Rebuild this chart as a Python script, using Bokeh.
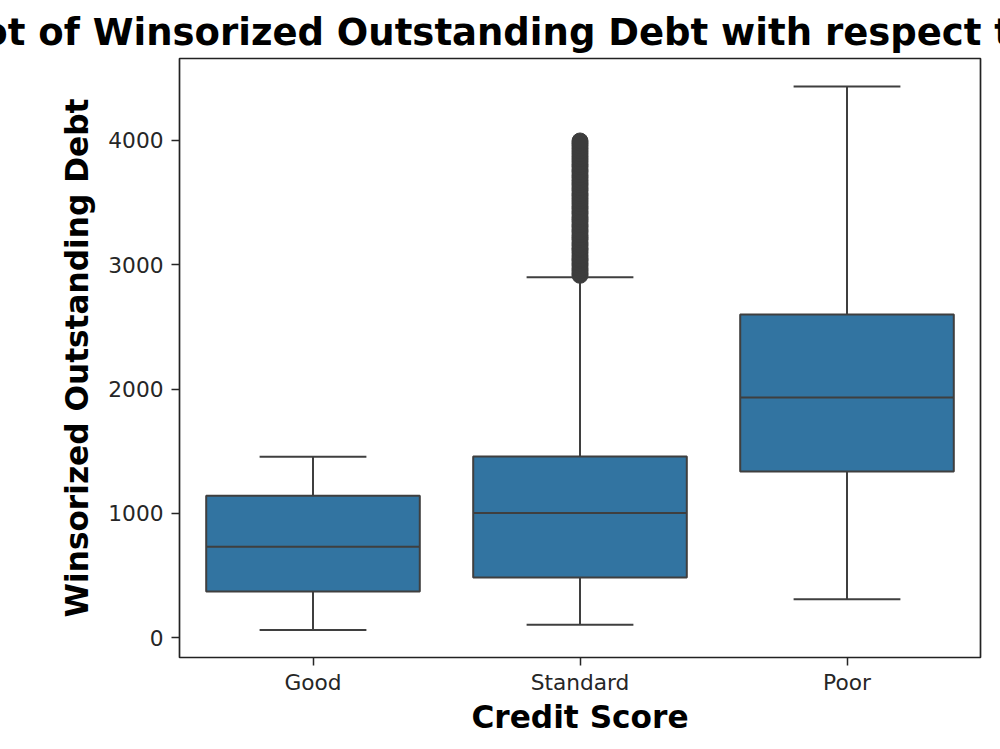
from bokeh.plotting import figure
from bokeh.models import FactorRange, Range1d, FixedTicker, ColumnDataSource
from bokeh.transform import dodge
from bokeh.embed import file_html
from bokeh.resources import INLINE

# ---- data ----
categories = ["Good", "Standard", "Poor"]
q1_values = [372, 485, 1338]
median_values = [732, 1003, 1933]
q3_values = [1142, 1459, 2599]
lower_whisker = [64, 105, 311]
upper_whisker = [1456, 2899, 4433]
standard_outliers = [2915, 2931, 2952, 2970, 2994, 3012, 3035, 3049, 3071, 3096,
                     3118, 3133, 3157, 3176, 3202, 3219, 3238, 3263, 3281, 3305,
                     3322, 3347, 3366, 3384, 3409, 3427, 3450, 3468, 3491, 3512,
                     3533, 3555, 3572, 3598, 3617, 3640, 3658, 3679, 3702, 3721,
                     3746, 3763, 3788, 3806, 3829, 3850, 3871, 3893, 3914, 3936,
                     3958, 3977, 3995]
y_ticks = [0, 1000, 2000, 3000, 4000]
title_text = "Box Plot of Winsorized Outstanding Debt with respect to Credit Score"
x_label = "Credit Score"
y_label = "Winsorized Outstanding Debt"

BOX_FILL = "#3274a1"
LINE = "#3f3f3f"

p = figure(width=1000, height=749, x_range=FactorRange(*categories),
           y_range=Range1d(-158, 4658), output_backend="svg", toolbar_location=None,
           min_border_left=179, min_border_right=20, min_border_top=58,
           min_border_bottom=92, background_fill_color="white",
           border_fill_color="white")

src = ColumnDataSource(dict(cat=categories, q1=q1_values, med=median_values,
                            q3=q3_values, lo=lower_whisker, hi=upper_whisker))

# whiskers
p.segment(x0="cat", y0="q3", x1="cat", y1="hi", source=src, line_color=LINE, line_width=2)
p.segment(x0="cat", y0="lo", x1="cat", y1="q1", source=src, line_color=LINE, line_width=2)
# boxes
p.vbar(x="cat", top="q3", bottom="q1", width=0.8, source=src,
       fill_color=BOX_FILL, line_color=LINE, line_width=2)
# medians
p.segment(x0=dodge("cat", -0.4, range=p.x_range), y0="med",
          x1=dodge("cat", 0.4, range=p.x_range), y1="med",
          source=src, line_color=LINE, line_width=2)
# caps
p.segment(x0=dodge("cat", -0.2, range=p.x_range), y0="hi",
          x1=dodge("cat", 0.2, range=p.x_range), y1="hi",
          source=src, line_color=LINE, line_width=2)
p.segment(x0=dodge("cat", -0.2, range=p.x_range), y0="lo",
          x1=dodge("cat", 0.2, range=p.x_range), y1="lo",
          source=src, line_color=LINE, line_width=2)
# outliers
p.scatter(x=["Standard"] * len(standard_outliers), y=standard_outliers,
          marker="circle", size=16, fill_color="#3d3d3d", line_color="#3d3d3d")

# title
p.title.text = title_text
p.title.align = "center"
p.title.text_font = "DejaVu Sans"
p.title.text_font_style = "bold"
p.title.text_font_size = "37px"
p.title.text_color = "black"

# axes
p.xgrid.visible = False
p.ygrid.visible = False
p.outline_line_color = "#222222"
p.outline_line_width = 1.7

p.yaxis.ticker = FixedTicker(ticks=y_ticks)
for ax in (p.xaxis[0], p.yaxis[0]):
    ax.axis_line_color = None
    ax.major_tick_in = 0
    ax.major_tick_out = 8
    ax.major_tick_line_color = "#262626"
    ax.major_tick_line_width = 1.5
    ax.minor_tick_line_color = None
    ax.major_label_text_font = "DejaVu Sans"
    ax.major_label_text_font_size = "21.7px"
    ax.major_label_text_color = "#262626"
    ax.major_label_standoff = 8
    ax.axis_label_text_font = "DejaVu Sans"
    ax.axis_label_text_font_style = "bold"
    ax.axis_label_text_font_size = "31.2px"
    ax.axis_label_text_color = "black"
    ax.axis_label_standoff = 10

p.xaxis.major_label_standoff = 4
p.xaxis.axis_label_standoff = 1
p.xaxis.axis_label = x_label
p.yaxis.axis_label = y_label
p.yaxis.major_label_orientation = "horizontal"

open("out.html", "w").write(file_html(p, INLINE))
